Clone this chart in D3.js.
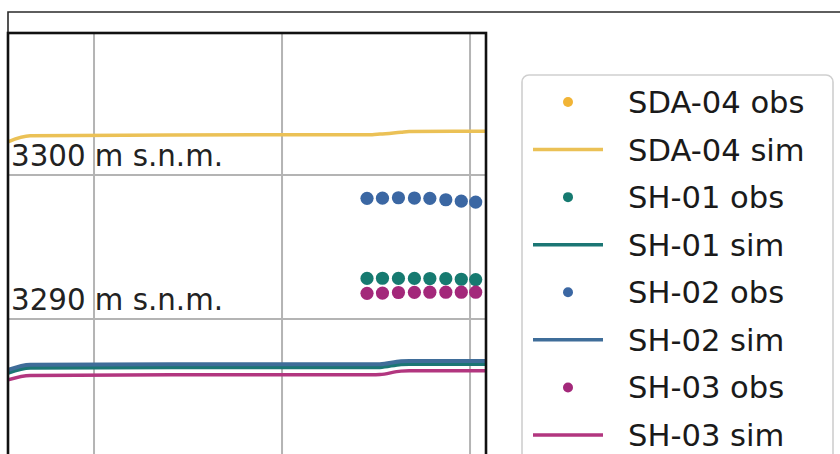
<!DOCTYPE html>
<html>
<head>
<meta charset="utf-8">
<script src="https://cdn.jsdelivr.net/npm/d3@7"></script>
<style>
  html, body { margin: 0; padding: 0; background: #fff; }
  svg { display: block; }
</style>
</head>
<body>
<svg id="chart" width="840" height="454"></svg>
<script>
// ---- data -------------------------------------------------------------
const parse = d3.timeParse("%Y-%m-%d");

// simulated heads (m s.n.m.)
const simDates = ["2020-07-18", "2020-08-30", "2021-06-01", "2022-06-25",
                  "2022-07-10", "2022-08-20", "2022-09-05", "2023-02-01"];
const sda04Sim = [3302.30, 3302.72, 3302.78, 3302.80, 3302.84, 3302.97, 3303.02, 3303.04];
const sh01Sim  = [3286.28, 3286.64, 3286.66, 3286.66, 3286.67, 3286.88, 3286.90, 3286.90];
const sh02Sim  = [3286.46, 3286.83, 3286.85, 3286.85, 3286.86, 3287.07, 3287.09, 3287.09];
const sh03Sim  = [3285.78, 3286.08, 3286.12, 3286.12, 3286.14, 3286.38, 3286.40, 3286.40];

// observed heads, monthly readings
const obsDates = ["2022-06-15", "2022-07-15", "2022-08-15", "2022-09-15",
                  "2022-10-15", "2022-11-15", "2022-12-15", "2023-01-12"];
const sda04Obs = [];
const sh01Obs  = [3292.82, 3292.83, 3292.82, 3292.82, 3292.81, 3292.80, 3292.76, 3292.74];
const sh02Obs  = [3298.38, 3298.39, 3298.42, 3298.40, 3298.38, 3298.28, 3298.18, 3298.12];
const sh03Obs  = [3291.78, 3291.80, 3291.84, 3291.85, 3291.86, 3291.86, 3291.86, 3291.86];

// elevation reference labels
const refLevels = [3300, 3290];
const refUnit = "m s.n.m.";

// yearly gridlines
const yearTicks = ["2021-01-01", "2022-01-01", "2023-01-01"];

const seriesNames = ["SDA-04", "SH-01", "SH-02", "SH-03"];
const obsColors = ["#f1b436", "#167a70", "#3b67a3", "#a3287a"];
const simColors = ["#ebc156", "#1b7674", "#3f6d99", "#b2367f"];

// ---- layout -----------------------------------------------------------
const svg = d3.select("#chart");
const plot = { left: 8, top: 33, right: 486, bottom: 454 };

const x = d3.scaleTime()
  .domain([parse("2020-07-18"), parse("2023-02-01")])
  .range([plot.left, plot.right]);

const y = d3.scaleLinear()
  .domain([3290, 3300])
  .range([319, 175]);

// outer frame
svg.append("path")
  .attr("d", `M8,460 L8,12 L845,12`)
  .attr("fill", "none")
  .attr("stroke", "#2a2a2a")
  .attr("stroke-width", 1.6);

svg.append("defs").append("clipPath").attr("id", "plotclip")
  .append("rect")
  .attr("x", plot.left).attr("y", plot.top)
  .attr("width", plot.right - plot.left)
  .attr("height", plot.bottom - plot.top);

const g = svg.append("g").attr("clip-path", "url(#plotclip)");

// gridlines
g.append("g").selectAll("line.vx")
  .data(yearTicks.map(parse))
  .join("line")
  .attr("x1", d => x(d)).attr("x2", d => x(d))
  .attr("y1", plot.top).attr("y2", plot.bottom)
  .attr("stroke", "#b4b4b4").attr("stroke-width", 2);

g.append("g").selectAll("line.hy")
  .data(refLevels)
  .join("line")
  .attr("x1", plot.left).attr("x2", plot.right)
  .attr("y1", d => y(d)).attr("y2", d => y(d))
  .attr("stroke", "#b4b4b4").attr("stroke-width", 2);

// simulated lines
const simSets = [sda04Sim, sh01Sim, sh02Sim, sh03Sim];
const simWidths = [3.5, 4.5, 4, 3.5];
const line = d3.line()
  .x(d => x(d[0]))
  .y(d => y(d[1]))
  .curve(d3.curveMonotoneX);

simSets.forEach((vals, i) => {
  const pts = simDates.map((d, j) => [parse(d), vals[j]]);
  g.append("path")
    .datum(pts)
    .attr("d", line)
    .attr("fill", "none")
    .attr("stroke", simColors[i])
    .attr("stroke-width", simWidths[i])
    .attr("stroke-linejoin", "round");
});

// observed points
const obsSets = [sda04Obs, sh01Obs, sh02Obs, sh03Obs];
obsSets.forEach((vals, i) => {
  g.append("g").selectAll("circle")
    .data(vals.map((v, j) => [parse(obsDates[j]), v]))
    .join("circle")
    .attr("cx", d => x(d[0]))
    .attr("cy", d => y(d[1]))
    .attr("r", 6.6)
    .attr("fill", obsColors[i]);
});

// elevation labels
g.append("g").selectAll("text")
  .data(refLevels)
  .join("text")
  .attr("x", 11)
  .attr("y", d => y(d) - 9)
  .attr("font-family", "DejaVu Sans, sans-serif")
  .attr("font-size", 29.3)
  .attr("fill", "#222")
  .text(d => `${d} ${refUnit}`);

// plot border
svg.append("rect")
  .attr("x", plot.left).attr("y", plot.top)
  .attr("width", plot.right - plot.left)
  .attr("height", plot.bottom - plot.top + 10)
  .attr("fill", "none")
  .attr("stroke", "#111")
  .attr("stroke-width", 2.6);

// legend
const lg = svg.append("g");
lg.append("rect")
  .attr("x", 522).attr("y", 75)
  .attr("width", 311).attr("height", 400)
  .attr("rx", 7)
  .attr("fill", "#fff")
  .attr("stroke", "#cfcfcf")
  .attr("stroke-width", 1.6);

const legendItems = [];
seriesNames.forEach((name, i) => {
  legendItems.push({ label: `${name} obs`, kind: "obs", color: obsColors[i] });
  legendItems.push({ label: `${name} sim`, kind: "sim", color: simColors[i] });
});

const rowY = d3.scaleLinear().domain([0, 7]).range([102, 435]);

const rows = lg.selectAll("g.row")
  .data(legendItems)
  .join("g")
  .attr("transform", (d, i) => `translate(0,${rowY(i)})`);

rows.filter(d => d.kind === "obs").append("circle")
  .attr("cx", 568).attr("cy", 0).attr("r", 5)
  .attr("fill", d => d.color);

rows.filter(d => d.kind === "sim").append("line")
  .attr("x1", 533).attr("x2", 603)
  .attr("y1", 0).attr("y2", 0)
  .attr("stroke", d => d.color)
  .attr("stroke-width", 3.5);

rows.append("text")
  .attr("x", 628)
  .attr("y", 11)
  .attr("font-family", "DejaVu Sans, sans-serif")
  .attr("font-size", 30.6)
  .attr("fill", "#1a1a1a")
  .text(d => d.label);
</script>
</body>
</html>
